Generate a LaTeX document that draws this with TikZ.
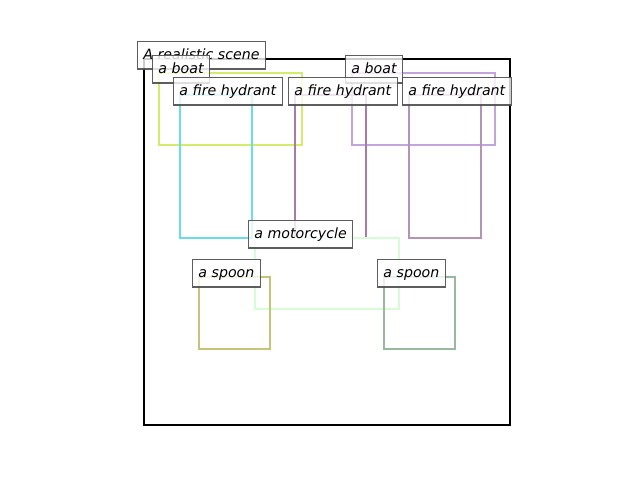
\documentclass[tikz,border=0pt]{standalone}
\usepackage{fontspec}
\setsansfont{DejaVu Sans}
\usepackage{tikz}
\definecolor{boatA}{RGB}{212,236,108}
\definecolor{boatB}{RGB}{196,164,220}
\definecolor{hydrA}{RGB}{106,220,236}
\definecolor{hydrB}{RGB}{168,122,168}
\definecolor{hydrC}{RGB}{180,148,180}
\definecolor{moto}{RGB}{216,252,216}
\definecolor{spoonA}{RGB}{196,196,122}
\definecolor{spoonB}{RGB}{152,184,160}
\tikzset{
  bbox/.style={line width=2.1pt},
  lbl/.style={anchor=base west, draw=black!70, line width=0.75pt, fill=white,
    fill opacity=0.8, draw opacity=0.9, text opacity=1, inner sep=4.3pt,
    text height=8.6pt, text depth=2.9pt,
    font=\sffamily\itshape\fontsize{10.2}{12}\selectfont}
}

\begin{document}
\begin{tikzpicture}[x=0.72pt, y=-0.72pt]
            \useasboundingbox (0,0) rectangle (640,480);
            % scene frame
            \draw[line width=1.6pt] (144,59) rectangle (510,425);

            % boxes
            \draw[bbox, draw=boatA] (159,73) rectangle (302,145);
            \draw[bbox, draw=boatB] (352,73) rectangle (495,145);
            \draw[bbox, draw=hydrA] (180,95) rectangle (252,238);
            \draw[bbox, draw=hydrB] (295,95) rectangle (366,238);
            \draw[bbox, draw=hydrC] (409,95) rectangle (481,238);
            \draw[bbox, draw=moto] (255,238) rectangle (399,309);
            \draw[bbox, draw=spoonA] (199,277) rectangle (270,349);
            \draw[bbox, draw=spoonB] (384,277) rectangle (455,349);

            % labels
            \node[lbl] (title) at (137,59) {A realistic scene};
            \node[lbl] (boatAl) at (152,73) {a boat};
            \node[lbl] (boatBl) at (345,73) {a boat};
            \node[lbl] (hydrAl) at (173,95) {a fire hydrant};
            \node[lbl] (hydrBl) at (288,95) {a fire hydrant};
            \node[lbl] (hydrCl) at (402,95) {a fire hydrant};
            \node[lbl] (motol) at (248,238) {a motorcycle};
            \node[lbl] (spoonAl) at (192,277) {a spoon};
            \node[lbl] (spoonBl) at (377,277) {a spoon};
        \end{tikzpicture}
\end{document}
